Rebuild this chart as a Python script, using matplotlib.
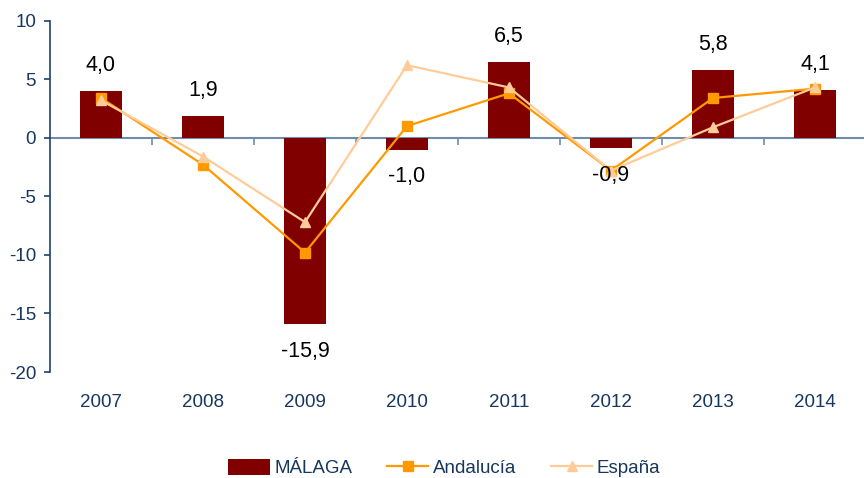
import matplotlib
matplotlib.use('Agg')
import matplotlib.pyplot as plt
from matplotlib.transforms import blended_transform_factory
import numpy as np

years = ['2007', '2008', '2009', '2010', '2011', '2012', '2013', '2014']
malaga = [4.0, 1.9, -15.9, -1.0, 6.5, -0.9, 5.8, 4.1]
andalucia = [3.4, -2.3, -9.8, 1.0, 3.8, -2.8, 3.4, 4.2]
espana = [3.2, -1.6, -7.2, 6.2, 4.3, -2.8, 0.9, 4.3]
y_ticks = [-20, -15, -10, -5, 0, 5, 10]

plt.rcParams['font.family'] = ['Liberation Sans', 'DejaVu Sans']

navy = '#17375E'
zero_col = '#6F8CAB'

fig = plt.figure(figsize=(8.64, 4.78), dpi=100)
ax = fig.add_axes([50 / 864, 1 - 372 / 478, 816 / 864, (372 - 20.7) / 478])

x = np.arange(len(years))
bars = ax.bar(x, malaga, width=0.42, color='#800000', label='MÁLAGA', zorder=2)
l1, = ax.plot(x, andalucia, color='#FF9900', marker='s', markersize=6.5, lw=1.6,
              label='Andalucía', zorder=3)
l2, = ax.plot(x, espana, color='#FFCC99', marker='^', markersize=7.5, lw=1.6,
              label='España', zorder=4)

ax.set_xlim(-0.5, 7.5)
ax.set_ylim(-20, 10)
ax.set_yticks(y_ticks)
ax.set_yticklabels([str(v) for v in y_ticks])

for s in ['top', 'right']:
    ax.spines[s].set_visible(False)
ax.spines['bottom'].set_position(('data', 0))
ax.spines['bottom'].set_color(zero_col)
ax.spines['bottom'].set_linewidth(1.5)
ax.spines['bottom'].set_zorder(1)
ax.spines['left'].set_color('#1F3F6F')
ax.spines['left'].set_linewidth(1.2)

ax.set_xticks(np.arange(0.5, 7.6, 1))
ax.tick_params(axis='x', direction='out', length=5, width=1.2, color=zero_col,
               labelbottom=False)
ax.tick_params(axis='y', direction='out', length=4, width=1.2, color='#1F3F6F',
               labelcolor=navy, labelsize=13.5, pad=6)

trans = blended_transform_factory(ax.transData, ax.transAxes)
for xi, yr in zip(x, years):
    ax.text(xi, -0.088, yr, transform=trans, ha='center', va='center',
            fontsize=13.5, color=navy)

for xi, v in zip(x, malaga):
    lab = f'{v:.1f}'.replace('.', ',')
    off = 18 if v >= 0 else -19.5
    ax.annotate(lab, (xi, v), xytext=(0, off), textcoords='offset points',
                ha='center', va='center', fontsize=15.5, color='black', zorder=5)

leg = fig.legend([bars, l1, l2], ['MÁLAGA', 'Andalucía', 'España'],
                 loc='center', bbox_to_anchor=(0.5145, 1 - 468 / 478), ncol=3,
                 frameon=False, fontsize=13.5, handlelength=2.2, handleheight=1.0,
                 handletextpad=0.25, columnspacing=1.85)
for t in leg.get_texts():
    t.set_color(navy)

fig.savefig('out.png', dpi=100)
